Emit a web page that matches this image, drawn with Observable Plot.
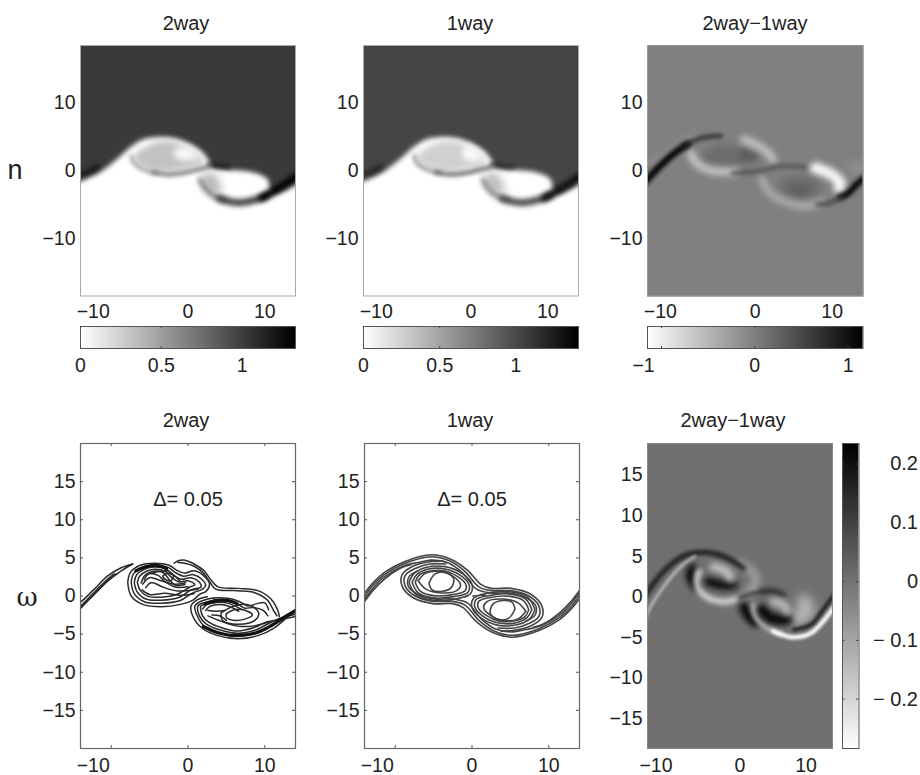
<!DOCTYPE html>
<html><head><meta charset="utf-8">
<script src="https://cdn.jsdelivr.net/npm/d3@7"></script>
<script src="https://cdn.jsdelivr.net/npm/@observablehq/plot@0.6"></script>
<style>
html,body{margin:0;padding:0;background:#fff}
#c{position:relative;width:920px;height:775px;overflow:hidden;font-family:"Liberation Sans",Arial,sans-serif;color:#222}
#c svg{position:absolute;background:transparent;overflow:visible}
.t{position:absolute;transform:translate(-50%,-50%);white-space:nowrap;font-size:20px}
</style></head><body><div id="c"></div>
<script>
// ---------- axis values ----------
const topYTicks=[10,0,-10], botYTicks=[15,10,5,0,-5,-10,-15];
const barTicksA=[0,0.5,1], barTicksC=[-1,0,1], barTicksF=[0.2,0.1,0,-0.1,-0.2];
const domX=[-14,14], domYTop=[-18.5,18.5], domYBot=[-20,20], domYF=[-18.7,18.9];
const rangeN=[0,1.33], rangeN2=[0,1.41], rangeDn=[-1.15,1.16], rangeDw=[-0.284,0.235];

// ---------- density field structures (x, y), panels a/b ----------
const darkFront=[[-16,25],[16,25],[16,-.3],[14.5,-1.7],[12.5,-3],[11,-3.5],[10.6,-2.4],[10.4,-1.3],[9,-.4],[6.9,.05],[4.7,.15],[3,.55],[2.7,1.5],[1.7,2.9],[0,4.1],[-1.8,4.8],[-3.5,5],[-5.7,4.7],[-7,3.9],[-8.3,2.7],[-10.5,.6],[-12.5,-.7],[-14,-1.3],[-16,-2.5],[-16,25]];
const eyeLeft=[[-7,2.1],[-5.7,3.4],[-3.5,4.4],[-1,4],[1.2,2.5],[2,1.2],[0,.4],[-2.5,-.1],[-5,.2],[-6.5,1]];
const hotLeft=[[-1.9,2.7],[-.9,3.6],[.6,3],[1.4,1.9],[0,1.5],[-1.4,1.8]];
const hotLeftB=[[-1.2,2.9],[-.4,3.7],[.8,2.9],[1.6,1.8],[0,1.4],[-.9,1.8]];
const armLeftA=[[-7.4,2.2],[-7,1.1],[-5.7,.15],[-4,-.35]];
const armLeftB=[[-4.6,-.2],[-2.6,-.55],[-.8,-.35],[.8,.05],[2.8,.6]];
const lobeRight=[[1.9,-.6],[3.3,-.4],[4,-1.6],[4.4,-3.2],[3,-3.2],[2,-2]];
const arcRightA=[[1.6,-1.4],[2.4,-2.8],[3.5,-3.8],[4.7,-4.3]];
const arcRightB=[[4.1,-4.1],[5.6,-4.6],[6.9,-4.7],[9.07,-4.2],[10.4,-3.6]];
const arcRightC=[[9.6,-4],[11.2,-3],[12.6,-2],[13.9,-1],[16,.5]];
const leftBlack=[[-16,-1.6],[-14,-.95],[-12.8,-.2],[-11.6,.6]];
const tailRoot=[[2.6,.9],[4,.7],[5.5,.5]];

// ---------- difference field, panel c ----------
const cBlackL=[[-14.5,-1.8],[-14,-1.25],[-12.8,.2],[-10.6,2.5],[-8.8,3.9]];
const cBlackL2=[[-9.4,3.5],[-7.4,4.7],[-6,5.05],[-4.4,5.15]];
const cLightFringe=[[-14,1],[-12,2.3],[-9.5,4.4],[-7.5,5.5]];
const cCrescentA=[[-8.4,2.6],[-7.7,1.2],[-6,.1],[-4,-.1],[-2.6,-.2]];
const cCrescentB=[[-1.5,4.6],[.2,3.8],[1.8,2.5],[2.3,1.6]];
const cEyeA=[[-7,2.2],[-5.5,3.6],[-3.5,3.9],[-2,3],[-2.2,1],[-4,.5],[-6,.9]];
const cEyeB=[[-2,3.3],[-.5,3],[.6,1.9],[-.5,1.3],[-2,1.3]];
const cBand=[[-3,-.4],[-.6,-.2],[.8,0],[3,.6],[5,.7],[6.6,.5]];
const cCrescentC=[[.8,-1.2],[2,-3.4],[4.6,-4.9],[7,-5.2],[8.6,-4.6]];
const cBright=[[7.8,.4],[9.8,-.5],[11,-1.7],[10.9,-2.6]];
const cEyeC=[[3,-1.6],[5,-.8],[7,-.9],[8.6,-2],[8.2,-3.4],[5.8,-4],[3.8,-3.2]];
const cEyeD=[[3.8,-2.6],[5.5,-2],[7.5,-2.5],[6.5,-3.6],[5,-3.5]];
const cBlackR=[[11,-3.9],[12,-3.4],[13.2,-2],[14.5,-.8]];
const cBlackR2=[[8,-5],[9.5,-4.8],[11.2,-3.9]];
const cLightR=[[11.5,.8],[13,1.4],[14.5,.9],[14.5,-.4],[13,-.6]];

// ---------- vorticity contours, panel d (2way) ----------
const dContours=[
 [[-14.5,-2.3],[-14,-1.6],[-12.2,.2],[-10.5,1.9],[-8.7,3.3],[-7.2,4.2]],
 [[-14.5,-1],[-14,-.8],[-12.2,.9],[-10.5,2.6],[-8.7,3.7],[-7.2,4.2]],
 [[-14.5,-1.6],[-14,-1.3],[-12.2,.5],[-10.5,2.2],[-9.6,2.9]],
 [[-14.5,-2],[-14,-1.6],[-12.2,.3],[-10.5,2.0],[-9.3,2.9]],
 [[-7.85,1.8],[-7.5,3.1],[-6.3,4],[-4.4,4.3],[-2.4,4],[-1.5,3.4],[-.5,3],[.8,3.3],[2.1,2.6],[2.8,1.6],[2.4,.65],[1.5,.2],[.7,-.5],[-1,-1.1],[-3.5,-1.4],[-5.9,-1.1],[-7.4,0],[-7.85,1.8]],
 [[-7.4,1.8],[-7.1,2.9],[-6,3.7],[-4.4,4.05],[-2.6,3.75],[-1.7,3.1],[-.6,2.6],[.7,2.8],[1.8,2.2],[2.3,1.4],[1.9,.9],[.5,.35],[-1,-.6],[-3.5,-.95],[-5.7,-.75],[-7,.3],[-7.4,1.8]],
 [[-7,1.8],[-6.7,2.75],[-5.7,3.5],[-4.4,3.8],[-2.8,3.5],[-2,2.8],[-.9,2.2],[.4,2.4],[1.4,1.9],[1.7,1.2],[.4,.8],[-1.2,-.2],[-3.5,-.55],[-5.5,-.4],[-6.6,.5],[-7,1.8]],
 [[-6.6,1.8],[-6.3,2.6],[-5.4,3.25],[-4.3,3.5],[-3,3.25],[-2.2,2.5],[-1.2,1.85],[0,2],[.9,1.5],[.2,1.15],[-1.5,.2],[-3.5,-.15],[-5.2,-.05],[-6.2,.7],[-6.6,1.8]],
 [[-6.1,1.7],[-5.6,2.7],[-4.4,3.25],[-3.2,3.05],[-2.5,2.2],[-1.6,1.4],[-.4,1.5]],
 [[-5.9,1.55],[-5,2.4],[-3.5,2],[-1.8,1.55],[-.3,1.75]],
 [[-5.5,1.1],[-4.8,1.75],[-3.1,1.1],[-1.35,.66],[1.3,.9]],
 [[-6,.8],[-5,.2],[-3,.35],[-1,.1],[.8,.3]],
 [[-5.7,2.1],[-5.1,2.9],[-3.9,2.7],[-3,1.9],[-1.6,1.15],[0,1.2]],
 [[-4.8,2.95],[-3.8,3.2],[-2.7,3.3],[-1.7,2.6],[-1,1.9]],
 [[-3.3,2.6],[-2.6,3],[-1.9,2.6],[-2.3,2],[-3,2.2],[-3.3,2.6]],
 [[-1.8,4.3],[-1.35,4.6],[-.4,4.7],[.8,4.2],[2.1,3.3],[3,2.1],[3.9,1.2],[6.5,1],[9.1,.7],[10.8,-.4],[11.7,-1.9],[11.9,-2.7]],
 [[-1.3,4.4],[-.4,4.3],[.8,3.9],[2,3],[2.8,1.9],[3.6,.9],[6.5,.7],[8.5,.5],[10.3,-.5],[11.2,-2],[11.6,-2.6]],
 [[2.5,-.1],[1.2,-.5],[.4,-1.3],[.6,-2.6],[1.8,-4.2],[3.9,-5.2],[6.5,-5.6],[9.1,-5.2],[11.2,-4.2],[13,-2.7],[14.5,-1.3]],
 [[3.4,-.25],[1.9,-.6],[.9,-1.3],[1.2,-2.6],[2.1,-3.95],[4.1,-4.8],[6.5,-5.25],[8.9,-4.9],[11,-3.85],[14.5,-1.75]],
 [[3.5,-.55],[2.2,-.85],[1.3,-1.3],[1.5,-2.6],[2.4,-3.7],[4.3,-4.5],[6.5,-4.9],[8.7,-4.5],[10.5,-3.6],[12,-2.9],[14.5,-2.3]],
 [[3.6,-.85],[2.5,-1.1],[1.7,-1.3],[1.9,-2.6],[2.8,-3.5],[4.5,-4.2],[6.5,-4.6],[8.7,-4.1],[10,-3.5],[12,-3.1],[14.5,-2.6]],
 [[3.4,-.25],[5.2,-.3],[6.5,-.65],[7.8,-1.3],[9,-1],[10,-.9],[10.5,-1.8]],
 [[3.5,-.55],[5.1,-.6],[6.3,-.95],[7.4,-1.6],[8.5,-1.5],[9.8,-1.9],[10.4,-2.6]],
 [[1.9,-1.7],[2.5,-1.1],[3.6,-.85],[5,-.9],[6.1,-1.3],[7,-1.8]],
 [[2.3,-1.9],[2.8,-1.4],[3.7,-1.15],[4.9,-1.2],[5.9,-1.6],[6.6,-2]],
 [[5,-2.3],[6,-1.8],[7.5,-1.9],[8.4,-2.5],[7.5,-3],[6,-3.2],[5,-2.8],[5,-2.3]],
 [[4.3,-2.2],[6,-1.3],[8,-1.2],[9.2,-2.2],[8.7,-3.2],[6.5,-3.7],[4.5,-3.2],[4.3,-2.2]],
 [[2.6,-2.6],[4.3,-3.3],[6.5,-3.95],[8.4,-3.95],[10.5,-3.4]],
 [[2.6,-1.9],[3.7,-2],[4.8,-1.9]],
 [[3.1,-2.5],[4.1,-2.6],[5,-3.2]]
];
const dHeavy=[
 [[-6.8,3.3],[-5.4,3.85],[-4,4],[-2.8,3.6]],
 [[2,-4.0],[4,-4.85],[6.5,-5.2],[9,-4.8],[11,-3.8]],
 [[2.2,-1.05],[3.6,-.6],[5.2,-.6],[6.4,-1]],
 [[11,-3.8],[12.5,-2.8],[14.5,-1.6]]
];

// ---------- vorticity contours, panel e (1way) ----------
const eContours=[
 [[-14.5,-.2],[-13.9,.5],[-13,1.6],[-11.4,3.1],[-8.8,4.5],[-5.3,5.4],[-2.7,4.8],[-.6,3.4],[1.2,1.5],[2.5,1],[5.1,1],[7.7,.2],[9.1,-1.3],[9.1,-2.8],[7.7,-3.9],[5.5,-4.5],[3.8,-4.6]],
 [[-14.5,-.6],[-13.9,.1],[-13,1.3],[-11.4,2.8],[-8.8,4.25],[-5.3,5.15],[-2.8,4.55],[-.9,3.2],[.9,1.2],[2.5,.7],[5,.7],[7.4,0],[8.7,-1.3],[8.7,-2.7],[7.4,-3.6],[5.5,-4.2],[3.4,-4.2]],
 [[-14.5,-1],[-13.9,-.3],[-13,.9],[-11.4,2.5],[-9,3.9],[-7,4.4],[-5.3,4.7],[-3,4.3],[-1.2,3],[.6,.9],[2.5,.4],[4.9,.4],[7,-.2],[8.3,-1.3],[8.2,-2.5],[7,-3.3]],
 [[-14.5,-1.3],[-13.9,-.6],[-13,.6],[-11.4,2.2],[-9.4,3.6],[-8,4.1]],
 [[14.5,.2],[13.9,-.5],[13,-1.6],[11.4,-3.1],[8.8,-4.5],[5.3,-5.4],[2.7,-4.8],[.6,-3.4],[-1.2,-1.5],[-2.5,-1],[-5.1,-1],[-7.7,-.2],[-9.1,1.3],[-9.1,2.8],[-7.7,3.9],[-5.5,4.5],[-3.8,4.6]],
 [[14.5,.6],[13.9,-.1],[13,-1.3],[11.4,-2.8],[8.8,-4.25],[5.3,-5.15],[2.8,-4.55],[.9,-3.2],[-.9,-1.2],[-2.5,-.7],[-5,-.7],[-7.4,0],[-8.7,1.3],[-8.7,2.7],[-7.4,3.6],[-5.5,4.2],[-3.4,4.2]],
 [[14.5,1],[13.9,.3],[13,-.9],[11.4,-2.5],[9,-3.9],[7,-4.4],[5.3,-4.7],[3,-4.3],[1.2,-3],[-.6,-.9],[-2.5,-.4],[-4.9,-.4],[-7,.2],[-8.3,1.3],[-8.2,2.5],[-7,3.3]],
 [[14.5,1.3],[13.9,.6],[13,-.6],[11.4,-2.2],[9.4,-3.6],[8,-4.1]],
 [[-8.2,1.8],[-7.5,3],[-6,3.75],[-3.5,3.85],[-1.2,2.9],[0,1.5],[-.2,.3],[-2,-.35],[-5,-.55],[-7.3,.2],[-8.2,1.8]],
 [[-7.8,1.8],[-7.2,2.8],[-5.8,3.5],[-3.5,3.55],[-1.5,2.7],[-.4,1.5],[-.5,.5],[-2.2,-.05],[-5,-.25],[-7,.4],[-7.8,1.8]],
 [[-7.4,1.8],[-6.9,2.7],[-5.6,3.25],[-3.6,3.3],[-1.8,2.5],[-.8,1.5],[-.9,.7],[-2.4,.2],[-5,.05],[-6.7,.6],[-7.4,1.8]],
 [[-7,2],[-6,3],[-4,3.2],[-2.5,2.6],[-1.5,1.5],[-2,.7],[-4,.4],[-6,.9],[-7,2]],
 [[-5.6,1.7],[-4.8,2.9],[-3.4,3.1],[-2.4,2.3],[-2.7,1.1],[-4,.6],[-5.2,.8],[-5.6,1.7]],
 [[8.2,-1.8],[7.5,-3],[6,-3.75],[3.5,-3.85],[1.2,-2.9],[0,-1.5],[.2,-.3],[2,.35],[5,.55],[7.3,-.2],[8.2,-1.8]],
 [[7.8,-1.8],[7.2,-2.8],[5.8,-3.5],[3.5,-3.55],[1.5,-2.7],[.4,-1.5],[.5,-.5],[2.2,.05],[5,.25],[7,-.4],[7.8,-1.8]],
 [[7.4,-1.8],[6.9,-2.7],[5.6,-3.25],[3.6,-3.3],[1.8,-2.5],[.8,-1.5],[.9,-.7],[2.4,-.2],[5,-.05],[6.7,-.6],[7.4,-1.8]],
 [[7,-2],[6,-3],[4,-3.2],[2.5,-2.6],[1.5,-1.5],[2,-.7],[4,-.4],[6,-.9],[7,-2]],
 [[5.6,-1.7],[4.8,-2.9],[3.4,-3.1],[2.4,-2.3],[2.7,-1.1],[4,-.6],[5.2,-.8],[5.6,-1.7]],
 [[-.9,-.1],[-.5,.05]],[[.1,0],[.6,0]],[[1.2,.1],[1.7,.05]]
];

// ---------- difference field, panel f ----------
const fLobes=[
 {p:[[0,4.1],[1.85,3.1],[2.4,1.7],[1.1,.65]],v:-.09,w:8,b:3.5},
 {p:[[9.7,-.6],[10.2,-1.8],[8.7,-2.6]],v:-.13,w:15,b:5},
 {p:[[-7.2,3.5],[-7.5,2.5],[-6.7,1.3]],v:.24,w:9,b:3},
 {p:[[-6.2,3.1],[-6.5,1.5],[-5.2,.05],[-2.5,-.6],[0,-.15],[2.4,.65]],v:-.2,w:6,b:2.4},
 {p:[[-4.75,1.9],[-3,1.5],[-1,1.5]],v:.22,w:9,b:3},
 {p:[[-4,3.7],[-2,3.1],[-1.45,2.3]],v:-.17,w:8,b:3},
 {p:[[0,-.15],[2.1,.45],[4.6,.75],[6.6,.25]],v:.16,w:5,b:2.4},
 {p:[[.55,-1.2],[1.1,-2.2],[2.35,-3.2]],v:.24,w:9,b:3},
 {p:[[2.1,-1],[2.35,-2.4],[3.85,-3.65],[6.1,-4.5]],v:-.15,w:5,b:2.2},
 {p:[[5,-4.2],[6.1,-4.6],[8.15,-5],[10.7,-4.5],[12.4,-3.2],[14.5,-1]],v:-.28,w:4.5,b:1.8},
 {p:[[3.35,-1.6],[4.6,-2.6],[7.1,-2.8]],v:.22,w:11,b:3},
 {p:[[5.1,-.6],[6.6,-1],[7.1,-1.8]],v:-.15,w:8,b:3},
 {p:[[-14.5,0],[-13.8,.85],[-11,3.6],[-8,5.2],[-5,5.45],[-2,4.8],[.55,3.5]],v:.2,w:4.5,b:2.2},
 {p:[[-14.5,-3],[-13.8,-1.6],[-11.5,1.3],[-9,3.7],[-6.8,5]],v:-.16,w:2.6,b:1.5},
 {p:[[8.15,-4.05],[10.7,-3.45],[12.4,-1.8],[14.5,.6]],v:.18,w:3.5,b:1.8}
];

// ---------- helpers ----------
const host=document.getElementById("c");
const FONT=19.5, PAD=60;
const blur=b=>(i,s,v,d,c,n)=>{const g=n(i,s,v,d,c);g.style.filter=`blur(${b}px)`;return g;};
const ridge=(p,v,w,b)=>Plot.line(p,{x:"0",y:"1",stroke:()=>v,strokeWidth:w,curve:"catmull-rom",clip:true,strokeLinecap:"round",render:blur(b)});
const blob=(p,v,b)=>Plot.line(p,{x:"0",y:"1",fill:()=>v,stroke:"none",curve:"catmull-rom-closed",clip:true,render:blur(b)});
const contour=(p,col,w)=>Plot.line(p,{x:"0",y:"1",stroke:col,strokeWidth:w,curve:"catmull-rom",clip:true,render:blur(.5)});
const minus=d=>String(Math.abs(d)).replace(/^/,d<0?"\u2212":"");

function place(left,top,w,h,o,extraR=0){
  const plot=Plot.plot({width:w+PAD+8+extraR,height:h+8+34,marginLeft:PAD,marginRight:8+extraR,marginTop:8,marginBottom:34,
    style:{fontFamily:'"Liberation Sans",Arial,sans-serif',background:"transparent",color:"#222",overflow:"visible"},...o});
  plot.style.left=(left-PAD)+"px"; plot.style.top=(top-8)+"px"; host.appendChild(plot);
}
function label(txt,x,y,extra=""){const e=document.createElement("div");e.className="t";e.style.cssText=`left:${x}px;top:${y}px;${extra}`;e.textContent=txt;host.appendChild(e);}
const xAxis=(dx,pad)=>[
  Plot.axisX([-10],{tickSize:0,tickPadding:pad,fontSize:FONT,dx,tickFormat:minus,label:null}),
  Plot.axisX([0,10],{tickSize:0,tickPadding:pad,fontSize:FONT,tickFormat:minus,label:null})];
const yAxis=t=>Plot.axisY(t,{tickSize:0,tickPadding:5,fontSize:FONT,tickFormat:minus,label:null});

function hbar(left,top,w,rng,ticks,dxFirst){
  const levels=d3.range(rng[0],rng[1]+1e-9,(rng[1]-rng[0])/w);
  place(left,top,w,22,{
    x:{domain:rng},color:{type:"linear",domain:rng,range:["white","black"]},
    marks:[
      Plot.tickX(levels,{x:d=>d,stroke:d=>d,strokeWidth:1.6,clip:true}),
      Plot.frame({stroke:"#555"}),
      Plot.tickX(ticks,{x:d=>d,stroke:"#444",insetBottom:20}),
      Plot.tickX(ticks,{x:d=>d,stroke:"#444",insetTop:20}),
      Plot.axisX(ticks.slice(0,1),{tickSize:0,tickPadding:10,fontSize:FONT,dx:dxFirst,tickFormat:minus,label:null}),
      Plot.axisX(ticks.slice(1),{tickSize:0,tickPadding:10,fontSize:FONT,tickFormat:d=>minus(d),label:null})
    ]});
}

// ---------- panels a, b (density) ----------
function density(left,rng,hot,hotV,eyeV,armV){
  place(left,44.5,215,250.5,{
    x:{domain:domX},y:{domain:domYTop},color:{type:"linear",domain:rng,range:["white","black"]},
    marks:[
      blob(darkFront,1.03,2.4),
      ridge(leftBlack,1.33,4,3),
      ridge(tailRoot,1.25,3,2),
      blob(eyeLeft,eyeV,3),
      blob(hot,hotV,3),
      ridge(armLeftA,armV*.7,3.5,2.2),
      ridge(armLeftB,armV,4,2.2),
      blob(lobeRight,.38,4),
      ridge(arcRightA,.65,5,2.6),
      ridge(arcRightB,1,7,2.6),
      ridge(arcRightC,1.33,7,2.8),
      Plot.frame({stroke:"#aaa"}),
      ...xAxis(-18,8),yAxis(topYTicks)
    ]});
}
density(79.5,rangeN,hotLeft,.03,.32,.7);
density(363,rangeN2,hotLeftB,.03,.26,.85);
hbar(79.5,326,215,rangeN,barTicksA,0);
hbar(363,326,215,rangeN2,barTicksA,0);

// ---------- panel c ----------
place(647,44.5,215.5,250.5,{
  x:{domain:domX},y:{domain:domYTop},color:{type:"linear",domain:rangeDn,range:["white","black"]},
  marks:[
    Plot.frame({fill:"#808080",stroke:"#808080"}),
    blob(cLightR,-.12,4),
    ridge(cLightFringe,-.18,3,3),
    blob(cEyeA,.17,3.5),blob(cEyeB,.32,3),blob(cEyeC,.15,3.5),blob(cEyeD,.3,3.5),
    ridge(cCrescentA,-.62,8,3),
    ridge(cCrescentB,-.6,8,3),
    ridge(cBand,.4,4,2.2),
    ridge(cCrescentC,-.42,7,3),
    ridge(cBright,-1.1,11,3),
    ridge(cBlackL,1.2,6.5,2),
    ridge(cBlackL2,.85,3.5,2),
    ridge(cBlackR,1.2,6,2),
    ridge(cBlackR2,.55,3.5,2),
    Plot.frame({stroke:"#999"}),
    ...xAxis(-18,8),yAxis(topYTicks)
  ]});
hbar(647,326,215.5,rangeDn,barTicksC,-18);

// ---------- panels d, e (contours) ----------
function contours(left,list,heavy,col,w){
  const h=305,bw=215;
  place(left,443,bw,h,{
    x:{domain:domX},y:{domain:domYBot},
    marks:[
      ...list.map(p=>contour(p,col,w)),
      ...heavy.map(p=>contour(p,"#111",3.2)),
      Plot.frame({stroke:"#666",strokeWidth:1.2}),
      Plot.tickY(botYTicks,{y:d=>d,stroke:"#555",insetRight:bw-3}),
      Plot.tickY(botYTicks,{y:d=>d,stroke:"#555",insetLeft:bw-3}),
      Plot.tickX([-10,0,10],{x:d=>d,stroke:"#555",insetTop:h-3}),
      Plot.tickX([-10,0,10],{x:d=>d,stroke:"#555",insetBottom:h-3}),
      Plot.text(["\u0394= 0.05"],{x:()=>0,y:()=>12.7,fontSize:20,fill:"#222"}),
      ...xAxis(-18,10),yAxis(botYTicks)
    ]});
}
contours(79.5,dContours,dHeavy,"#2a2a2a",1.5);
contours(363.5,eContours,[],"#444",1.6);

// ---------- panel f ----------
place(647,443,185,305,{
  x:{domain:domX},y:{domain:domYF},color:{type:"linear",domain:rangeDw,range:["white","black"]},
  marks:[
    Plot.frame({fill:"#707070",stroke:"#707070"}),
    ...fLobes.map(l=>ridge(l.p,l.v,l.w,l.b)),
    Plot.frame({stroke:"#888"}),
    ...xAxis(-18,10),yAxis(botYTicks)
  ]});
// vertical colour bar
(function(){
  const lv=d3.range(rangeDw[0],rangeDw[1]+1e-9,(rangeDw[1]-rangeDw[0])/305);
  const plot=Plot.plot({width:16.5+8+70,height:305+16,marginLeft:8,marginRight:70,marginTop:8,marginBottom:8,
    style:{fontFamily:'"Liberation Sans",Arial,sans-serif',background:"transparent",color:"#222",overflow:"visible"},
    y:{domain:rangeDw},color:{type:"linear",domain:rangeDw,range:["white","black"]},
    marks:[
      Plot.tickY(lv,{y:d=>d,stroke:d=>d,strokeWidth:1.6,clip:true}),
      Plot.frame({stroke:"#555"}),
      Plot.tickY(barTicksF,{y:d=>d,stroke:"#444",insetRight:14}),
      Plot.tickY(barTicksF,{y:d=>d,stroke:"#444",insetLeft:14}),
      Plot.axisY(barTicksF,{anchor:"right",tickSize:0,tickPadding:0,fontSize:FONT+.5,textAnchor:"end",dx:59,
        tickFormat:d=>d<0?"\u2212 "+Math.abs(d):String(d),label:null})
    ]});
  plot.style.left=(842-8)+"px";plot.style.top=(443-8)+"px";host.appendChild(plot);
})();

// ---------- titles ----------
[[186,23,"2way"],[470,23,"1way"],[755,23,"2way\u22121way"],[186,420,"2way"],[470,420,"1way"],[733,420,"2way\u22121way"]].forEach(t=>label(t[2],t[0],t[1]));
label("n",15,170,"font-size:27px");
label("\u03c9",27,597,"font-size:26px;font-family:'DejaVu Serif','Liberation Serif',serif");
</script></body></html>
